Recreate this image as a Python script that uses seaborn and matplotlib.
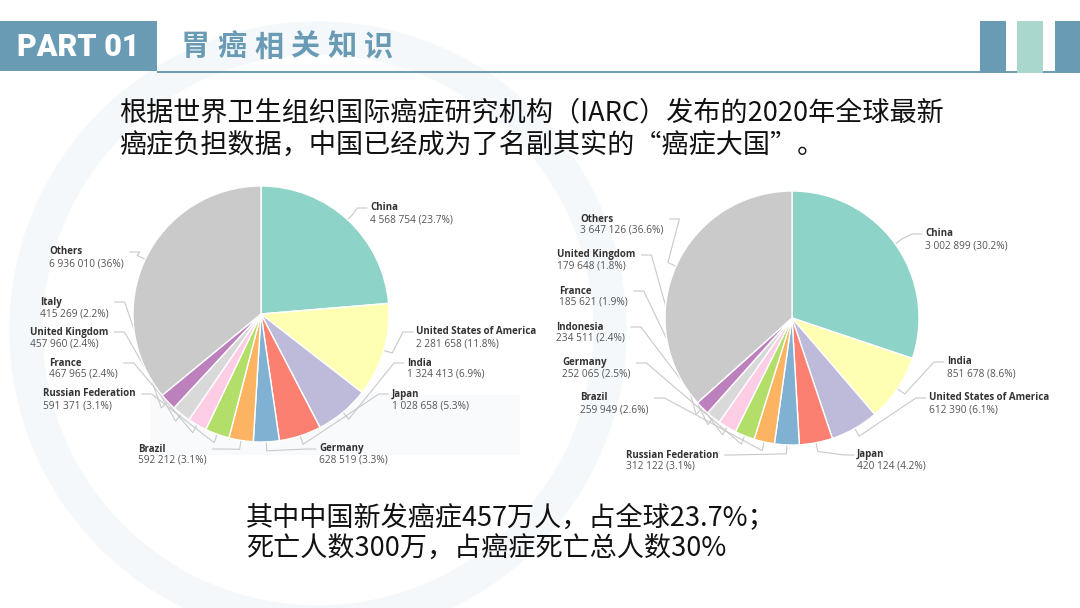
import numpy as np
import matplotlib
matplotlib.use("Agg")
import matplotlib.pyplot as plt
import seaborn as sns
from matplotlib.patches import Rectangle, Circle

# ---------------- data ----------------
incidence_countries = ["China", "United States of America", "India", "Japan", "Germany",
                       "Brazil", "Russian Federation", "France", "United Kingdom", "Italy", "Others"]
incidence_values = [4568754, 2281658, 1324413, 1028658, 628519, 592212, 591371,
                    467965, 457960, 415269, 6936010]
incidence_pct = ["23.7%", "11.8%", "6.9%", "5.3%", "3.3%", "3.1%", "3.1%",
                 "2.4%", "2.4%", "2.2%", "36%"]

mortality_countries = ["China", "India", "United States of America", "Japan", "Russian Federation",
                       "Brazil", "Germany", "Indonesia", "France", "United Kingdom", "Others"]
mortality_values = [3002899, 851678, 612390, 420124, 312122, 259949, 252065,
                    234511, 185621, 179648, 3647126]
mortality_pct = ["30.2%", "8.6%", "6.1%", "4.2%", "3.1%", "2.6%", "2.5%",
                 "2.4%", "1.9%", "1.8%", "36.6%"]

header_tag = "PART 01"
header_title = "胃癌相关知识"
intro_lines = ["根据世界卫生组织国际癌症研究机构（IARC）发布的2020年全球最新",
               "癌症负担数据，中国已经成为了名副其实的“癌症大国”。"]
summary_lines = ["其中中国新发癌症457万人，占全球23.7%；",
                 "死亡人数300万，占癌症死亡总人数30%"]

# ---------------- layout (pixels) ----------------
W, H = 1080, 608
left_pie = dict(cx=261, cy=314, r=128)
right_pie = dict(cx=792, cy=318, r=127)
left_label_pos = [(370, 208), (416, 332), (407, 363), (392, 394), (319, 449), (138, 449),
                  (43, 394), (49, 363), (30, 332), (40, 302), (49, 252)]
right_label_pos = [(925, 234), (947, 362), (929, 398), (857, 455), (626, 455), (580, 398),
                   (562, 363), (556, 327), (559, 291), (557, 255), (580, 219)]

sns.set_theme(style="white")
plt.rcParams["font.family"] = ["Noto Sans CJK SC", "DejaVu Sans"]

base = sns.color_palette("Set3", 10).as_hex()
slice_colors = base + ["#cacaca"]
BLUE = "#6a9bb5"

fig = plt.figure(figsize=(W / 100, H / 100), dpi=100)
fig.patch.set_facecolor("white")

bg = fig.add_axes([0, 0, 1, 1], zorder=0)
bg.set_xlim(0, W)
bg.set_ylim(H, 0)
bg.axis("off")

# faint watermark
bg.add_patch(Circle((318, 330), 292, fill=False, lw=24, ec="#f4f8fb", zorder=0))
bg.add_patch(Rectangle((150, 395), 370, 60, color="#f8fafc", zorder=0, lw=0))

# header
bg.add_patch(Rectangle((0, 21), 157, 50, color=BLUE, lw=0, zorder=2))
bg.text(78, 46.5, header_tag, color="white", fontsize=22, fontweight="black",
        family=["Roboto", "DejaVu Sans"], ha="center", va="center", zorder=3)
for i, ch in enumerate(header_title):
    bg.text(181 + i * 36.5, 46.5, ch, color=BLUE, fontsize=21, fontweight="bold",
            family=["Noto Sans CJK SC", "DejaVu Sans"], ha="left", va="center", zorder=3)
bg.plot([157, W], [71.5, 71.5], color=BLUE, lw=1.4, zorder=2, solid_capstyle="butt")
bg.add_patch(Rectangle((980, 21), 26, 52, color=BLUE, lw=0, zorder=2))
bg.add_patch(Rectangle((1017, 21), 26, 52, color="#a9d7cd", lw=0, zorder=2))
bg.add_patch(Rectangle((1055, 21), 25, 52, color=BLUE, lw=0, zorder=2))

# body text
for i, line in enumerate(intro_lines):
    bg.text(119, 113 + i * 32, line, fontsize=19.5, color="#111111",
            ha="left", va="center", zorder=3)
for i, line in enumerate(summary_lines):
    bg.text(246, 518 + i * 31, line, fontsize=19.5, color="#111111",
            ha="left", va="center", zorder=3)


def fmt(v):
    return f"{v:,}".replace(",", " ")


renderer = fig.canvas.get_renderer()


def draw_pie(geom, countries, values, pcts, label_pos):
    cx, cy, r = geom["cx"], geom["cy"], geom["r"]
    ax = fig.add_axes([(cx - r) / W, 1 - (cy + r) / H, 2 * r / W, 2 * r / H], zorder=1)
    ax.patch.set_alpha(0)
    wedges, _ = ax.pie(values, colors=slice_colors, startangle=90, counterclock=False,
                       radius=1.0, wedgeprops=dict(edgecolor="white", linewidth=1.0))
    ax.set_xlim(-1, 1)
    ax.set_ylim(-1, 1)
    ax.set_aspect("auto")
    to_bg = bg.transData.inverted()
    for w, name, val, pct, (lx, ly) in zip(wedges, countries, values, pcts, label_pos):
        t1 = bg.text(lx, ly, name, fontsize=7, fontweight="bold", color="#333333",
                     family=["Open Sans", "DejaVu Sans"], ha="left", va="center", zorder=4)
        t2 = bg.text(lx, ly + 11.5, f"{fmt(val)} ({pct})", fontsize=7.3, color="#555555",
                     family=["Open Sans", "DejaVu Sans"], ha="left", va="center", zorder=4)
        mid = np.deg2rad((w.theta1 + w.theta2) / 2)
        p_edge = to_bg.transform(ax.transData.transform((np.cos(mid), np.sin(mid))))
        p_out = to_bg.transform(ax.transData.transform((1.07 * np.cos(mid), 1.07 * np.sin(mid))))
        if lx > cx:
            ax_x = lx - 3
            elbow = ax_x - 10
        else:
            b1 = t1.get_window_extent(renderer)
            b2 = t2.get_window_extent(renderer)
            right_px = max(b1.x1, b2.x1)
            ax_x = to_bg.transform((right_px, 0))[0] + 6
            elbow = ax_x + 10
        xs = [p_edge[0], p_out[0], elbow, ax_x]
        ys = [p_edge[1], p_out[1], ly, ly]
        bg.plot(xs, ys, color="#c9c9c9", lw=0.8, zorder=3)


draw_pie(left_pie, incidence_countries, incidence_values, incidence_pct, left_label_pos)
draw_pie(right_pie, mortality_countries, mortality_values, mortality_pct, right_label_pos)

fig.savefig("out.png", dpi=100, facecolor="white")
